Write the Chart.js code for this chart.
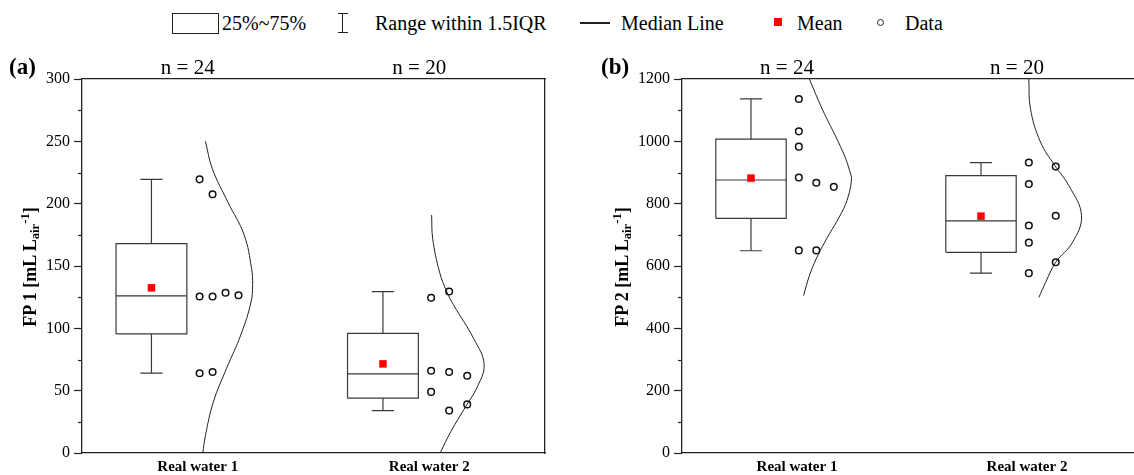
<!DOCTYPE html>
<html>
<head>
<meta charset="utf-8">
<script src="https://cdn.jsdelivr.net/npm/chart.js@4.4.1/dist/chart.umd.min.js"></script>
<style>
  html, body { margin: 0; padding: 0; background: #fff; }
  body {
    width: 1134px; height: 475px; overflow: hidden; position: relative;
    font-family: 'Liberation Serif', 'Times New Roman', serif; color: #000;
  }
  canvas { position: absolute; top: 0; }
  #chartA { left: 0; }
  #chartB { left: 570px; }
  .abs { position: absolute; white-space: nowrap; }
  .lg-text { font-size: 20px; line-height: 22px; top: 12px; }
  .ytitle {
    font-size: 18px; font-weight: bold; line-height: 20px;
    transform: translate(-50%, -50%) rotate(-90deg);
  }
  .ytitle sub, .ytitle sup { font-size: 0.7em; }
  .ytitle sub { vertical-align: -0.25em; }
  .ytitle sup { vertical-align: 0.6em; }
  .panel-tag { font-size: 23px; font-weight: bold; top: 54px; }
</style>
</head>
<body>

<!-- legend row -->
<div class="abs" style="left:172px; top:13px; width:45px; height:19px; border:1.3px solid #222;"></div>
<div class="abs lg-text" style="left:222px;">25%~75%</div>
<div class="abs" style="left:342px; top:13px; width:1.3px; height:20px; background:#222;"></div>
<div class="abs" style="left:338px; top:13px; width:10px; height:1.3px; background:#222;"></div>
<div class="abs" style="left:338px; top:32px; width:10px; height:1.3px; background:#222;"></div>
<div class="abs lg-text" style="left:375px;">Range within 1.5IQR</div>
<div class="abs" style="left:580px; top:22px; width:30px; height:1.5px; background:#222;"></div>
<div class="abs lg-text" style="left:621px;">Median Line</div>
<div class="abs" style="left:774px; top:18px; width:8px; height:8px; background:#ff0000;"></div>
<div class="abs lg-text" style="left:797px;">Mean</div>
<div class="abs" style="left:877px; top:19px; width:5px; height:5px; border:1.4px solid #222; border-radius:50%;"></div>
<div class="abs lg-text" style="left:905px;">Data</div>

<canvas id="chartA" width="560" height="475"></canvas>
<canvas id="chartB" width="587" height="475"></canvas>

<div class="abs panel-tag" style="left:9px;">(a)</div>
<div class="abs panel-tag" style="left:601px;">(b)</div>
<div class="abs ytitle" style="left:30px; top:267px;">FP 1 [mL L<sub>air</sub><sup>-1</sup>]</div>
<div class="abs ytitle" style="left:622px; top:267px;">FP 2 [mL L<sub>air</sub><sup>-1</sup>]</div>

<script>
// ---- data ----
const categories = ['Real water 1', 'Real water 2'];
const sampleCounts = [24, 20];

// (a) FP 1
const fp1Q1 = [95.5, 44];
const fp1Q3 = [168, 96];
const fp1Median = [126, 63.5];
const fp1Mean = [132.5, 71.5];
const fp1Low = [64, 34];
const fp1High = [219.5, 129.5];
const fp1Points = [
  [219.5, 207.5, 125.5, 125.5, 128.5, 126.5, 64, 65],
  [124.5, 129.5, 66, 65, 62, 49, 34, 39]
];
const fp1Slots = [
  [0, 1, 0, 1, 2, 3, 0, 1],
  [0, 1, 0, 1, 2, 0, 1, 2]
];
const fp1CurveY = [
  [0, 14, 41, 68, 95, 121, 135, 148, 175, 201.5, 228, 250],
  [0, 17, 38.5, 52, 71, 92, 119, 129, 145, 172, 191]
];
const fp1CurveDensity = [
  [0.06, 0.11, 0.26, 0.51, 0.78, 0.97, 1.0, 0.98, 0.84, 0.53, 0.24, 0.11],
  [0.17, 0.37, 0.67, 0.86, 1.0, 0.8, 0.42, 0.30, 0.16, 0.03, 0.01]
];

// (b) FP 2
const fp2Q1 = [753, 644];
const fp2Q3 = [1007, 890];
const fp2Median = [876, 745];
const fp2Mean = [882, 760];
const fp2Low = [649, 577];
const fp2High = [1136, 932];
const fp2Points = [
  [1136, 1032, 983, 884, 867, 854, 650, 650],
  [932, 919, 863, 730, 761, 675, 612, 577]
];
const fp2Slots = [
  [0, 0, 0, 0, 1, 2, 0, 1],
  [0, 1, 0, 0, 1, 0, 1, 0]
];
const fp2CurveY = [
  [505, 569, 623, 676, 784, 837, 880, 891, 944, 998, 1105, 1200],
  [499, 548, 612, 676, 762, 858, 923, 998, 1105, 1200]
];
const fp2CurveDensity = [
  [0.09, 0.2, 0.33, 0.49, 0.85, 0.96, 1.0, 0.99, 0.89, 0.75, 0.44, 0.2],
  [0.19, 0.32, 0.51, 0.83, 1.0, 0.76, 0.49, 0.22, 0.03, 0.0]
];

// ---- layout / style ----
const FONT = 'Liberation Serif';
const AXIS = '#222';
const BOX = '#3a3a3a';
const BOX_SHIFT = -0.2;     // box centre, relative to category
const BOX_HALF = 0.153;
const CAP_HALF = 0.048;
const POINT_SHIFT = 0.008;
const CURVE_SPAN = 0.229;

Chart.defaults.font.family = FONT;
Chart.defaults.color = '#000';

// short minor ticks between the labelled ones
const minorTicks = {
  id: 'minorTicks',
  afterDraw(chart, args, opts) {
    const s = chart.scales.y;
    const ctx = chart.ctx;
    ctx.save();
    ctx.strokeStyle = AXIS;
    ctx.lineWidth = 1.2;
    for (let v = opts.step; v < s.max; v += opts.step * 2) {
      const y = Math.round(s.getPixelForValue(v)) + 0.5;
      ctx.beginPath();
      ctx.moveTo(s.right - opts.len, y);
      ctx.lineTo(s.right, y);
      ctx.stroke();
    }
    ctx.restore();
  }
};

function makePanel(canvasId, p) {
  let boxData = [], whiskerData = [], medianData = [];
  categories.forEach(function (c, i) {
    const bx = i + 1 + BOX_SHIFT;
    const l = bx - BOX_HALF, r = bx + BOX_HALF;
    boxData.push({x: l, y: p.q1[i]}, {x: r, y: p.q1[i]}, {x: r, y: p.q3[i]},
      {x: l, y: p.q3[i]}, {x: l, y: p.q1[i]}, {x: l, y: null});
    whiskerData.push(
      {x: bx, y: p.q3[i]}, {x: bx, y: p.high[i]}, {x: bx, y: null},
      {x: bx - CAP_HALF, y: p.high[i]}, {x: bx + CAP_HALF, y: p.high[i]}, {x: bx, y: null},
      {x: bx, y: p.q1[i]}, {x: bx, y: p.low[i]}, {x: bx, y: null},
      {x: bx - CAP_HALF, y: p.low[i]}, {x: bx + CAP_HALF, y: p.low[i]}, {x: bx, y: null});
    medianData.push({x: l, y: p.median[i]}, {x: r, y: p.median[i]}, {x: l, y: null});
  });

  const lineStyle = {
    type: 'scatter', showLine: true, pointRadius: 0, borderColor: BOX,
    borderWidth: 1.2, borderJoinStyle: 'miter', tension: 0
  };

  let datasets = [
    Object.assign({data: boxData, order: 6}, lineStyle),
    Object.assign({data: whiskerData, order: 5}, lineStyle),
    Object.assign({data: medianData, order: 4}, lineStyle)
  ];

  categories.forEach(function (c, i) {
    datasets.push({
      type: 'scatter', showLine: true, pointRadius: 0, borderColor: '#222',
      borderWidth: 1, tension: 0.4, order: 3,
      data: p.curveY[i].map(function (y, k) {
        return {x: i + 1 + POINT_SHIFT + p.curveDensity[i][k] * CURVE_SPAN, y: y};
      })
    });
    datasets.push({
      type: 'scatter', order: 2, pointStyle: 'circle', pointRadius: 3.3,
      pointBorderWidth: 1.5, pointBorderColor: '#111', pointBackgroundColor: 'rgba(0,0,0,0)',
      data: p.points[i].map(function (v, k) {
        return {x: i + 1 + POINT_SHIFT + p.slots[i][k] * p.slotStep[i], y: v};
      })
    });
  });

  datasets.push({
    type: 'scatter', order: 1, pointStyle: 'rect', pointRadius: 5.3,
    pointBorderWidth: 0, pointBackgroundColor: '#ff0000',
    data: categories.map(function (c, i) { return {x: i + 1 + BOX_SHIFT, y: p.mean[i]}; })
  });

  const catTicks = function (s) {
    s.ticks = categories.map(function (c, i) { return {value: i + 1}; });
  };
  const border = {display: true, color: AXIS, width: 1.3};

  return new Chart(document.getElementById(canvasId), {
    type: 'scatter',
    data: {datasets: datasets},
    plugins: [minorTicks],
    options: {
      responsive: false,
      animation: false,
      events: [],
      layout: {padding: 0},
      plugins: {
        legend: {display: false},
        tooltip: {enabled: false},
        minorTicks: {step: p.yStep / 2, len: 4}
      },
      scales: {
        x: {
          type: 'linear', position: 'bottom', min: 0.5, max: 2.5,
          grid: {display: false, drawTicks: false}, border: border,
          afterBuildTicks: catTicks,
          ticks: {
            callback: function (v) { return categories[v - 1]; },
            font: {size: 15, weight: 'bold'}, color: '#000',
            padding: 5, maxRotation: 0, autoSkip: false
          },
          afterFit: function (s) { s.height = 475 - 453; }
        },
        xTop: {
          type: 'linear', position: 'top', min: 0.5, max: 2.5,
          grid: {display: false, drawTicks: false}, border: border,
          afterBuildTicks: catTicks,
          ticks: {
            callback: function (v) { return 'n = ' + sampleCounts[v - 1]; },
            font: {size: 21}, color: '#000', labelOffset: -10,
            padding: -2, maxRotation: 0, autoSkip: false
          },
          afterFit: function (s) { s.height = 79; }
        },
        y: {
          type: 'linear', position: 'left', min: 0, max: p.yMax,
          ticks: {
            stepSize: p.yStep, font: {size: 16}, color: '#000', padding: 4,
            callback: function (v) { return String(v); }
          },
          grid: {drawOnChartArea: false, tickLength: 8, tickColor: AXIS, tickWidth: 1.2},
          border: border,
          afterFit: function (s) { s.width = p.yAxisWidth; }
        },
        yRight: {
          type: 'linear', position: 'right', min: 0, max: p.yMax,
          ticks: {display: false}, grid: {display: false}, border: border,
          afterFit: function (s) { s.width = 15; }
        }
      }
    }
  });
}

makePanel('chartA', {
  q1: fp1Q1, q3: fp1Q3, median: fp1Median, mean: fp1Mean, low: fp1Low, high: fp1High,
  points: fp1Points, slots: fp1Slots, curveY: fp1CurveY, curveDensity: fp1CurveDensity,
  yMax: 300, yStep: 50, slotStep: [0.056, 0.078], yAxisWidth: 82
});

makePanel('chartB', {
  q1: fp2Q1, q3: fp2Q3, median: fp2Median, mean: fp2Mean, low: fp2Low, high: fp2High,
  points: fp2Points, slots: fp2Slots, curveY: fp2CurveY, curveDensity: fp2CurveDensity,
  yMax: 1200, yStep: 200, slotStep: [0.076, 0.117], yAxisWidth: 112
});
</script>
</body>
</html>
